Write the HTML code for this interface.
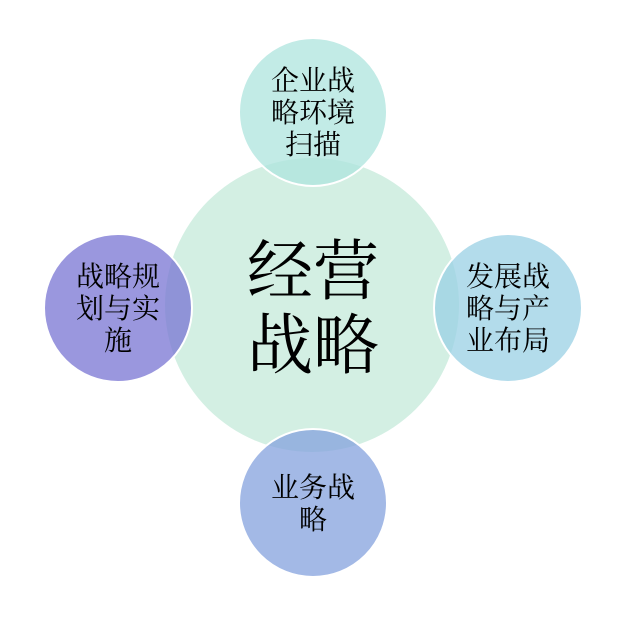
<!DOCTYPE html>
<html><head><meta charset="utf-8"><style>
html,body{margin:0;padding:0;background:#fff;}
svg{display:block}
text{font-family:"Noto Serif CJK SC","Liberation Serif",serif;fill:#000;text-anchor:middle}
</style></head><body>
<svg width="623" height="623" viewBox="0 0 623 623">
<circle cx="312" cy="305" r="147" fill="#d3efe3"/>
<text x="313" y="294" font-size="66">经营</text>
<text x="313" y="368" font-size="66">战略</text>
<g stroke="#fff" stroke-width="2">
<circle cx="313" cy="112" r="74" fill="#ade4dd" fill-opacity="0.75"/>
<circle cx="508" cy="308" r="74" fill="#99d0e4" fill-opacity="0.75"/>
<circle cx="313" cy="503" r="74" fill="#84a1dd" fill-opacity="0.75"/>
<circle cx="118" cy="308" r="74" fill="#7874d3" fill-opacity="0.75"/>
</g>
<g font-size="28">
<text x="313" y="90">企业战</text>
<text x="313" y="122">略环境</text>
<text x="313" y="154">扫描</text>
<text x="508" y="286">发展战</text>
<text x="508" y="318">略与产</text>
<text x="508" y="350">业布局</text>
<text x="313" y="497">业务战</text>
<text x="313" y="529">略</text>
<text x="118" y="286">战略规</text>
<text x="118" y="318">划与实</text>
<text x="118" y="350">施</text>
</g>
</svg>
</body></html>
